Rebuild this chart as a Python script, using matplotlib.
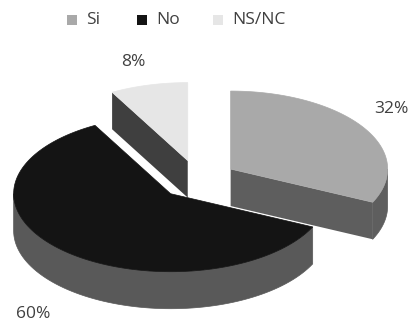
import numpy as np
import matplotlib.pyplot as plt
from matplotlib.patches import Polygon, Rectangle

plt.rcParams['font.family'] = ['Open Sans', 'DejaVu Sans']

# datos de la encuesta
labels = ['Si', 'No', 'NS/NC']
shares = [32, 60, 8]
pct_text = ['32%', '60%', '8%']

top_colors = ['#a9a9a9', '#141414', '#e6e6e6']
side_colors = ['#5e5e5e', '#595959', '#3f3f3f']
text_color = '#404040'

fig = plt.figure(figsize=(4.12, 3.22), dpi=100)
ax = fig.add_axes([0, 0, 1, 1])
ax.set_xlim(0, 412)
ax.set_ylim(322, 0)
ax.axis('off')

# tarta 3D: elipse + grosor
cx, cy = 197.5, 179.5
rx, ry, depth = 157, 78, 37
explode = 0.25


def rim(t, ox, oy, dz=0.0):
    t = np.radians(t)
    return np.column_stack([ox + rx * np.cos(t), oy - ry * np.sin(t) + dz])


slices = []
cum = 0.0
for i, s in enumerate(shares):
    t1 = 90 - cum * 3.6
    t0 = 90 - (cum + s) * 3.6
    cum += s
    mid = (t0 + t1) / 2
    ox = cx + explode * rx * np.cos(np.radians(mid))
    oy = cy - explode * ry * np.sin(np.radians(mid))
    slices.append((i, t0, t1, mid, ox, oy))

# de atras hacia delante
slices.sort(key=lambda s: -np.sin(np.radians(s[3])))

for i, t0, t1, mid, ox, oy in slices:
    apex = np.array([[ox, oy]])
    # caras radiales visibles
    for t, vis in ((t0, np.cos(np.radians(t0)) > 0), (t1, np.cos(np.radians(t1)) < 0)):
        if vis:
            p = rim([t], ox, oy)
            pts = np.vstack([apex, p, p + [0, depth], apex + [0, depth]])
            ax.add_patch(Polygon(pts, closed=True, fc=side_colors[i], ec='none'))
    # lateral exterior (parte frontal)
    for lo, hi in ((-180, 0), (180, 360)):
        a, b = max(t0, lo), min(t1, hi)
        if b > a:
            tt = np.linspace(a, b, 80)
            up = rim(tt, ox, oy)
            dn = rim(tt[::-1], ox, oy, depth)
            ax.add_patch(Polygon(np.vstack([up, dn]), closed=True,
                                 fc=side_colors[i], ec=side_colors[i], lw=0.5))
    # cara superior
    tt = np.linspace(t0, t1, 120)
    pts = np.vstack([apex, rim(tt, ox, oy)])
    ax.add_patch(Polygon(pts, closed=True, fc=top_colors[i], ec=top_colors[i], lw=0.5))

# etiquetas de porcentaje
label_pos = {0: (391, 109), 1: (33, 314), 2: (133, 62)}
for i, txt in enumerate(pct_text):
    x, y = label_pos[i]
    ax.text(x, y, txt, ha='center', va='center', fontsize=12.5, color=text_color)

# leyenda
leg_x = [67, 137, 213]
for i, lab in enumerate(labels):
    ax.add_patch(Rectangle((leg_x[i], 15), 10, 10, fc=top_colors[i], ec='none'))
    ax.text(leg_x[i] + 19, 19.5, lab, ha='left', va='center', fontsize=12.5, color=text_color)

fig.savefig('out.png', dpi=100)
